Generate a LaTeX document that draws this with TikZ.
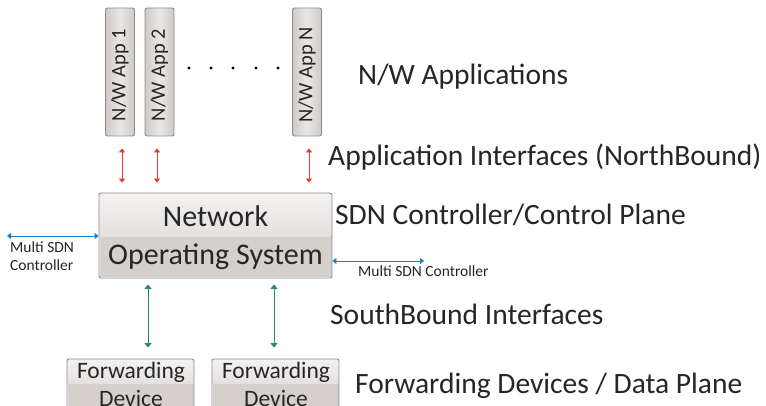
\documentclass[tikz,border=0pt]{standalone}
\usepackage{fontspec}
\setmainfont{Carlito}
\usetikzlibrary{arrows.meta}
\definecolor{txt}{HTML}{262626}
\definecolor{edge}{HTML}{8E8A88}
\definecolor{lite}{HTML}{F3F2F1}
\definecolor{mid}{HTML}{E4E0DE}
\definecolor{dark}{HTML}{D6D0CC}
\definecolor{appside}{HTML}{CFCAC7}
\definecolor{appmid}{HTML}{E9E7E6}
\definecolor{nbred}{HTML}{E8392C}
\definecolor{ctlblue}{HTML}{1B7FC6}
\definecolor{sbteal}{HTML}{22896F}
\newcommand{\applabel}[1]{\rotatebox{90}{\hspace*{-6pt}#1}}
\tikzset{
  appbox/.style={draw=edge, line width=0.9pt, rounded corners=2pt,
    left color=appside, right color=appside, middle color=appmid,
    minimum width=29pt, minimum height=128pt, inner sep=0pt,
    font=\fontsize{20.5}{20.5}\selectfont, text=txt},
  frame/.style={draw=edge, line width=0.9pt, rounded corners=2pt, inner sep=0pt},
  boxtext/.style={text=txt, inner sep=0pt, anchor=base},
  ctltext/.style={boxtext, font=\fontsize{30}{30}\selectfont},
  fwdtext/.style={boxtext, font=\fontsize{23.5}{23.5}\selectfont},
  layer/.style={anchor=base west, text=txt, inner sep=0pt, font=\fontsize{29.5}{29.5}\selectfont},
  small/.style={text=txt, inner sep=0pt, font=\fontsize{15.5}{17.5}\selectfont, align=left},
  nb/.style={draw=nbred, line width=0.8pt, shorten <=12pt, shorten >=10pt,
    {Triangle[width=6pt,length=4pt]}-{Triangle[width=6pt,length=4pt]}},
  sb/.style={draw=sbteal, line width=1pt, shorten <=6pt, shorten >=11pt,
    {Triangle[width=7pt,length=4.5pt]}-{Triangle[width=7pt,length=4.5pt]}},
  mc/.style={draw=ctlblue, line width=0.9pt,
    {Triangle[width=6pt,length=4pt]}-{Triangle[width=6pt,length=4pt]}},
}
\begin{document}
\begin{tikzpicture}[x=1pt, y=-1pt]
\useasboundingbox[fill=white] (0,0) rectangle (766,406);

% application boxes
\node[appbox] (app1) at (120,72) {\applabel{N/W App 1}};
\node[appbox] (app2) at (159.5,72) {\applabel{N/W App 2}};
\node[appbox] (appn) at (307,72) {\applabel{N/W App N}};
\foreach \x in {189,211,233,256,278}
  \fill[black] (\x,68) circle (1.7pt);

% controller: light upper band, darker lower band
\fill[top color=lite, bottom color=mid] (99.5,193.5) rectangle (331.5,237);
\fill[dark] (99.5,237) rectangle (331.5,277.5);
\node[frame, minimum width=233pt, minimum height=85pt] (ctrl) at (215.5,235.5) {};
\node[ctltext] (netw) at (215.5,226.5) {Network};
\node[ctltext] (nos) at (215.5,265) {Operating System};

% forwarding devices
\fill[top color=lite, bottom color=mid] (67.5,359.5) rectangle (193.5,384);
\fill[dark] (67.5,384) rectangle (193.5,412);
\node[frame, minimum width=127pt, minimum height=54pt] (fwd1) at (130.5,386) {};
\fill[top color=lite, bottom color=mid] (212.5,359.5) rectangle (338.5,384);
\fill[dark] (212.5,384) rectangle (338.5,412);
\node[frame, minimum width=127pt, minimum height=54pt] (fwd2) at (275.5,386) {};
\node[fwdtext] (fw1a) at (131,378) {Forwarding};
\node[fwdtext] (fw1b) at (131,406) {Device};
\node[fwdtext] (fw2a) at (276,378) {Forwarding};
\node[fwdtext] (fw2b) at (276,406) {Device};

% northbound interfaces
\draw[nb] ([xshift=2pt]app1.south) -- ([xshift=2pt]app1.south |- ctrl.north);
\draw[nb] ([xshift=-2.5pt]app2.south) -- ([xshift=-2.5pt]app2.south |- ctrl.north);
\draw[nb] ([xshift=2pt]appn.south) -- ([xshift=2pt]appn.south |- ctrl.north);

% southbound interfaces
\coordinate (s1) at (148,0);
\coordinate (s2) at (274,0);
\draw[sb] (s1 |- ctrl.south) -- (s1 |- fwd1.north);
\draw[sb] (s2 |- ctrl.south) -- (s2 |- fwd2.north);

% east/west links to other controllers
\coordinate (mwl) at (7,236);
\draw[mc] (mwl) -- (ctrl.west |- mwl);
\coordinate (mer) at (424,261);
\draw[mc] (ctrl.east |- mer) -- (mer);
\node[small, anchor=base west] (mcl) at (10,270) {Multi SDN\\Controller};
\node[small, anchor=base west] (mcr) at (358,276.5) {Multi SDN Controller};

% layer labels
\node[layer] (lapps) at (358,85) {N/W Applications};
\node[layer] (lnb) at (328,166) {Application Interfaces (NorthBound)};
\node[layer] (lctl) at (335,224.5) {SDN Controller/Control Plane};
\node[layer] (lsb) at (330,324) {SouthBound Interfaces};
\node[layer] (ldp) at (355,393) {Forwarding Devices / Data Plane};
\end{tikzpicture}
\end{document}
